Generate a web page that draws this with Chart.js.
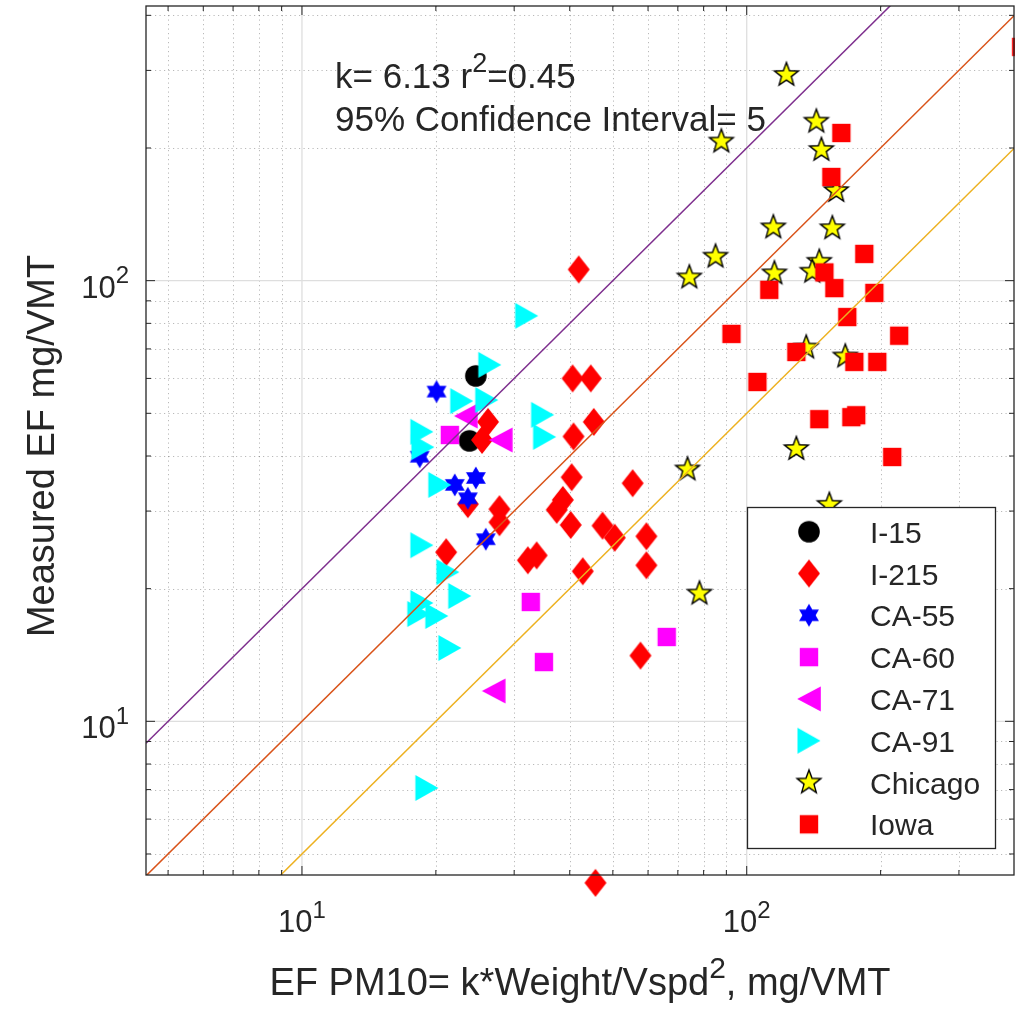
<!DOCTYPE html>
<html>
<head>
<meta charset="utf-8">
<script src="https://cdn.jsdelivr.net/npm/chart.js@4.4.0/dist/chart.umd.min.js"></script>
<style>
  html, body { margin: 0; padding: 0; background: #fff; }
  canvas { display: block; }
</style>
</head>
<body>
<canvas id="chart" width="1015" height="1014" style="width:1015px;height:1014px"></canvas>
<script>
// axis limits and tick labels
const xLimits = [4.46, 399];
const yLimits = [4.48, 420];
const xMajorTicks = [10, 100];
const yMajorTicks = [10, 100];

// series
const i15X = [24.6, 23.8];
const i15Y = [60.8, 43.3];

const i215X = [41.9, 40.6, 44.6, 45.3, 40.8, 26.2, 25.4, 23.6, 27.8, 27.8, 21.1, 40.4, 38.6,
  37.4, 40.2, 55.4, 47.4, 50.5, 59.5, 59.5, 32.2, 33.7, 42.8, 57.7, 45.7];
const i215Y = [106.0, 60.0, 60.0, 47.8, 44.3, 47.8, 43.5, 31.1, 30.3, 28.3, 24.2, 35.8, 31.8,
  30.2, 27.9, 34.7, 27.8, 26.1, 26.3, 22.6, 23.2, 23.8, 21.9, 14.1, 4.3];

const ca55X = [20.07, 18.4, 22.06, 24.6, 23.6, 25.9];
const ca55Y = [56.0, 39.85, 34.4, 35.66, 32.07, 25.9];

const ca60X = [21.5, 32.7, 35.0, 66.1];
const ca60Y = [44.65, 18.66, 13.63, 15.54];

const ca71X = [23.35, 27.98, 26.98];
const ca71Y = [49.3, 43.5, 11.72];

const ca91X = [32.0, 26.44, 22.87, 26.03, 34.76, 35.12, 18.6, 18.7, 20.41, 18.6, 21.28, 22.63,
  18.6, 18.31, 20.1, 21.5, 19.09];
const ca91Y = [83.2, 64.4, 53.3, 53.6, 49.6, 44.2, 45.4, 41.9, 34.4, 25.1, 21.8, 19.25,
  18.56, 17.52, 17.34, 14.67, 7.06];

const chicagoX = [122.8, 87.7, 143.4, 147.2, 159.0, 114.8, 155.8, 85.1, 74.3, 115.4, 145.6, 140.4,
  136.1, 166.6, 129.3, 73.6, 153.4, 78.3];
const chicagoY = [293.0, 206.9, 229.6, 198.0, 159.8, 132.1, 131.5, 113.4, 101.7, 103.9, 110.4, 104.8,
  70.5, 67.3, 41.5, 37.3, 31.0, 19.5];

const iowaX = [414, 163.2, 155.0, 183.8, 149.5, 157.4, 112.4, 193.6, 168.3, 92.4, 220.2, 129.3,
  174.6, 196.6, 105.7, 145.6, 171.9, 176.3, 212.4];
const iowaY = [339.2, 216.3, 171.9, 115.0, 104.4, 96.2, 95.3, 93.8, 82.7, 75.7, 75.0, 68.9,
  65.4, 65.4, 58.9, 48.5, 49.0, 49.5, 39.8];

// reference lines y = k*x
const lineRatios = [2, 1, 0.5];
const lineColors = ['#7E2F8E', '#D95319', '#EDB120'];

const FONT = '"Liberation Sans", Arial, Helvetica, sans-serif';
const INK = '#262626';

// MATLAB-like markers as small canvases
function starPath(g, n, R, r) {
  for (let i = 0; i < 2 * n; i++) {
    const a = -Math.PI / 2 + i * Math.PI / n;
    const rad = i % 2 === 0 ? R : r;
    if (i === 0) g.moveTo(rad * Math.cos(a), rad * Math.sin(a));
    else g.lineTo(rad * Math.cos(a), rad * Math.sin(a));
  }
}
function makeMarker(shape, fill, stroke) {
  const S = 32;
  const c = document.createElement('canvas');
  c.width = S; c.height = S;
  const g = c.getContext('2d');
  g.translate(S / 2, S / 2);
  g.beginPath();
  if (shape === 'circle') g.arc(0, 0, 10.8, 0, Math.PI * 2);
  else if (shape === 'diamond') { g.moveTo(0, -14); g.lineTo(11, 0); g.lineTo(0, 14); g.lineTo(-11, 0); }
  else if (shape === 'square') g.rect(-9.2, -9.2, 18.4, 18.4);
  else if (shape === 'left') { g.moveTo(-11.8, 0); g.lineTo(11.8, -12.5); g.lineTo(11.8, 12.5); }
  else if (shape === 'right') { g.moveTo(11.5, 0); g.lineTo(-11.5, -13); g.lineTo(-11.5, 13); }
  else if (shape === 'hexagram') starPath(g, 6, 11.5, 6.6);
  else if (shape === 'pentagram') starPath(g, 5, 12.5, 5.2);
  g.closePath();
  g.fillStyle = fill;
  g.fill();
  if (stroke) { g.lineWidth = 1.4; g.strokeStyle = stroke; g.lineJoin = 'miter'; g.stroke(); }
  return c;
}

const seriesDefs = [
  { label: 'I-15', xs: i15X, ys: i15Y, marker: makeMarker('circle', '#000000') },
  { label: 'I-215', xs: i215X, ys: i215Y, marker: makeMarker('diamond', '#FF0000') },
  { label: 'CA-55', xs: ca55X, ys: ca55Y, marker: makeMarker('hexagram', '#0000FF') },
  { label: 'CA-60', xs: ca60X, ys: ca60Y, marker: makeMarker('square', '#FF00FF') },
  { label: 'CA-71', xs: ca71X, ys: ca71Y, marker: makeMarker('left', '#FF00FF') },
  { label: 'CA-91', xs: ca91X, ys: ca91Y, marker: makeMarker('right', '#00FFFF') },
  { label: 'Chicago', xs: chicagoX, ys: chicagoY, marker: makeMarker('pentagram', '#FFFF00', '#000000') },
  { label: 'Iowa', xs: iowaX, ys: iowaY, marker: makeMarker('square', '#FF0000') }
];

const datasets = [];
lineRatios.forEach((k, i) => {
  datasets.push({
    type: 'line',
    data: [{ x: xLimits[0], y: k * xLimits[0] }, { x: xLimits[1] * 1.2, y: k * xLimits[1] * 1.2 }],
    borderColor: lineColors[i],
    borderWidth: 1.5,
    pointRadius: 0,
    fill: false,
    order: 0
  });
});
seriesDefs.forEach((s, i) => {
  datasets.push({
    label: s.label,
    data: s.xs.map((x, j) => ({ x: x, y: s.ys[j] })),
    pointStyle: s.marker,
    pointRadius: 13,
    pointHoverRadius: 13,
    clip: false,
    order: seriesDefs.length - i
  });
});

function richText(ctx, parts, x, y, size, align) {
  const supSize = Math.round(size * 0.78);
  const widths = parts.map(p => {
    ctx.font = (p[1] ? supSize : size) + 'px ' + FONT;
    return ctx.measureText(p[0]).width;
  });
  const total = widths.reduce((a, b) => a + b, 0);
  let cx = align === 'center' ? x - total / 2 : align === 'right' ? x - total : x;
  ctx.textAlign = 'left';
  ctx.textBaseline = 'alphabetic';
  parts.forEach((p, i) => {
    ctx.font = (p[1] ? supSize : size) + 'px ' + FONT;
    ctx.fillText(p[0], cx, p[1] ? y - size * 0.46 : y);
    cx += widths[i];
  });
}

function minorValues(lim) {
  const out = [];
  [1, 10, 100].forEach(d => {
    for (let m = 2; m <= 9; m++) {
      const v = m * d;
      if (v > lim[0] && v < lim[1]) out.push(v);
    }
  });
  return out;
}

const gridPlugin = {
  id: 'matlabGrid',
  beforeDraw(chart) {
    const ctx = chart.ctx;
    ctx.save();
    ctx.fillStyle = '#ffffff';
    ctx.fillRect(0, 0, chart.width, chart.height);
    ctx.restore();
  },
  beforeDatasetsDraw(chart) {
    const { ctx, chartArea: a, scales } = chart;
    ctx.save();
    ctx.lineWidth = 1;
    // minor dotted grid
    ctx.strokeStyle = 'rgba(38,38,38,0.32)';
    ctx.setLineDash([1.2, 3.3]);
    minorValues(xLimits).forEach(v => {
      const px = Math.round(scales.x.getPixelForValue(v)) + 0.5;
      ctx.beginPath(); ctx.moveTo(px, a.top); ctx.lineTo(px, a.bottom); ctx.stroke();
    });
    minorValues(yLimits).forEach(v => {
      const py = Math.round(scales.y.getPixelForValue(v)) + 0.5;
      ctx.beginPath(); ctx.moveTo(a.left, py); ctx.lineTo(a.right, py); ctx.stroke();
    });
    // major solid grid
    ctx.setLineDash([]);
    ctx.strokeStyle = '#dedede';
    ctx.lineWidth = 1.3;
    xMajorTicks.forEach(v => {
      const px = scales.x.getPixelForValue(v);
      ctx.beginPath(); ctx.moveTo(px, a.top); ctx.lineTo(px, a.bottom); ctx.stroke();
    });
    yMajorTicks.forEach(v => {
      const py = scales.y.getPixelForValue(v);
      ctx.beginPath(); ctx.moveTo(a.left, py); ctx.lineTo(a.right, py); ctx.stroke();
    });
    ctx.restore();
  },
  afterDraw(chart) {
    const { ctx, chartArea: a, scales } = chart;
    ctx.save();
    // box and ticks
    ctx.strokeStyle = INK;
    ctx.lineWidth = 1.3;
    ctx.strokeRect(a.left, a.top, a.right - a.left, a.bottom - a.top);
    ctx.lineWidth = 1;
    const tickX = (v, len) => {
      const px = scales.x.getPixelForValue(v);
      ctx.beginPath();
      ctx.moveTo(px, a.bottom); ctx.lineTo(px, a.bottom - len);
      ctx.moveTo(px, a.top); ctx.lineTo(px, a.top + len);
      ctx.stroke();
    };
    const tickY = (v, len) => {
      const py = scales.y.getPixelForValue(v);
      ctx.beginPath();
      ctx.moveTo(a.left, py); ctx.lineTo(a.left + len, py);
      ctx.moveTo(a.right, py); ctx.lineTo(a.right - len, py);
      ctx.stroke();
    };
    minorValues(xLimits).forEach(v => tickX(v, 5));
    minorValues(yLimits).forEach(v => tickY(v, 5));
    xMajorTicks.forEach(v => tickX(v, 9));
    yMajorTicks.forEach(v => tickY(v, 9));

    // tick labels 10^n
    ctx.fillStyle = INK;
    xMajorTicks.forEach(v => {
      const px = scales.x.getPixelForValue(v);
      richText(ctx, [['10', false], [String(Math.round(Math.log10(v))), true]], px, a.bottom + 57, 31, 'center');
    });
    yMajorTicks.forEach(v => {
      const py = scales.y.getPixelForValue(v);
      richText(ctx, [['10', false], [String(Math.round(Math.log10(v))), true]], a.left - 17, py + 17, 31, 'right');
    });

    // axis titles
    richText(ctx, [['EF PM10= k*Weight/Vspd', false], ['2', true], [', mg/VMT', false]],
      (a.left + a.right) / 2, 995, 38, 'center');
    ctx.save();
    ctx.translate(54, 446);
    ctx.rotate(-Math.PI / 2);
    richText(ctx, [['Measured EF mg/VMT', false]], 0, 0, 38, 'center');
    ctx.restore();

    // annotation
    richText(ctx, [['k= 6.13 r', false], ['2', true], ['=0.45', false]], 335, 88, 35, 'left');
    richText(ctx, [['95% Confidence Interval= 5', false]], 335, 131, 35, 'left');

    // legend
    const lx = 747, ly = 507, lw = 248, lh = 341;
    ctx.fillStyle = '#ffffff';
    ctx.fillRect(lx, ly, lw, lh);
    ctx.strokeStyle = INK;
    ctx.lineWidth = 1.3;
    ctx.strokeRect(lx + 0.5, ly + 0.5, lw, lh);
    seriesDefs.forEach((s, i) => {
      const cy = 531.7 + i * 41.8;
      ctx.drawImage(s.marker, 809 - s.marker.width / 2, cy - s.marker.height / 2);
      ctx.fillStyle = INK;
      richText(ctx, [[s.label, false]], 870, cy + 11, 30, 'left');
    });
    ctx.restore();
  }
};

new Chart(document.getElementById('chart'), {
  type: 'scatter',
  data: { datasets: datasets },
  options: {
    responsive: false,
    animation: false,
    layout: { autoPadding: false, padding: { top: 6, right: 1, left: 0, bottom: 0 } },
    plugins: { legend: { display: false }, tooltip: { enabled: false } },
    events: [],
    scales: {
      x: {
        type: 'logarithmic', min: xLimits[0], max: xLimits[1], bounds: 'data',
        grid: { display: false }, border: { display: false }, ticks: { display: false },
        afterFit(s) { s.height = 139; }
      },
      y: {
        type: 'logarithmic', min: yLimits[0], max: yLimits[1], bounds: 'data',
        grid: { display: false }, border: { display: false }, ticks: { display: false },
        afterFit(s) { s.width = 146; }
      }
    }
  },
  plugins: [gridPlugin]
});
</script>
</body>
</html>
